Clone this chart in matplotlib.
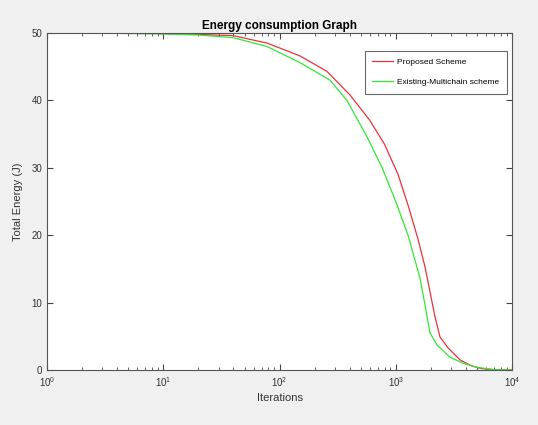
import matplotlib.pyplot as plt
from matplotlib.ticker import LogLocator, NullFormatter

# values (log x axis)
prop_x = [1, 3, 10, 20, 40, 78, 150, 256, 404, 600, 800, 1047, 1300, 1560, 1785, 2175, 2400, 2810, 3570, 4500, 5500, 7000, 10000]
prop_y = [50, 49.98, 49.9, 49.8, 49.6, 48.5, 46.6, 44.3, 40.8, 37.0, 33.5, 29.0, 24.0, 19.3, 15.3, 7.9, 4.9, 3.3, 1.5, 0.6, 0.2, 0.05, 0]

exist_x = [1, 3, 10, 20, 40, 78, 150, 272, 380, 566, 763, 1000, 1275, 1617, 1800, 1970, 2265, 2930, 3800, 5000, 7000, 10000]
exist_y = [50, 49.98, 49.85, 49.7, 49.3, 48.0, 45.6, 43.0, 40.0, 34.6, 30.0, 25.0, 20.0, 13.6, 9.3, 5.5, 3.7, 1.9, 1.0, 0.4, 0.05, 0]

yticks = [0, 10, 20, 30, 40, 50]

plt.rcParams['font.family'] = ['Liberation Sans', 'DejaVu Sans']
fig = plt.figure(figsize=(5.38, 4.25), dpi=100, facecolor='#f0f0f0')
ax = fig.add_axes([0.0874, 0.1294, 0.8643, 0.793])

ax.plot(prop_x, prop_y, color='#e8323c', lw=0.9, label='Proposed Scheme')
ax.plot(exist_x, exist_y, color='#33e633', lw=0.9, label='Existing-Multichain scheme')

ax.set_xscale('log')
ax.set_xlim(1, 1e4)
ax.set_ylim(0, 50)
ax.set_yticks(yticks)
ax.xaxis.set_major_locator(LogLocator(base=10, numticks=10))
ax.xaxis.set_minor_locator(LogLocator(base=10, subs=range(2, 10), numticks=20))
ax.xaxis.set_minor_formatter(NullFormatter())

for s in ax.spines.values():
    s.set_color('#555555')
    s.set_linewidth(0.8)
ax.tick_params(which='both', direction='in', top=True, right=True, colors='#444444',
               labelsize=7, labelcolor='#333333')
ax.tick_params(which='major', length=4)
ax.tick_params(which='minor', length=2)

ax.set_title('Energy consumption Graph', fontsize=8.5, fontweight='bold', pad=3)
ax.set_xlabel('Iterations', fontsize=8, color='#333333', labelpad=3)
ax.set_ylabel('Total Energy (J)', fontsize=8, color='#333333', labelpad=6)

leg = ax.legend(loc='upper right', bbox_to_anchor=(0.998, 0.96), fontsize=6,
                fancybox=False, edgecolor='#444444', handlelength=2.5, borderpad=0.9,
                labelspacing=1.5, handletextpad=0.5)
leg.get_frame().set_linewidth(0.8)

fig.savefig('out.png', dpi=100, facecolor=fig.get_facecolor())
